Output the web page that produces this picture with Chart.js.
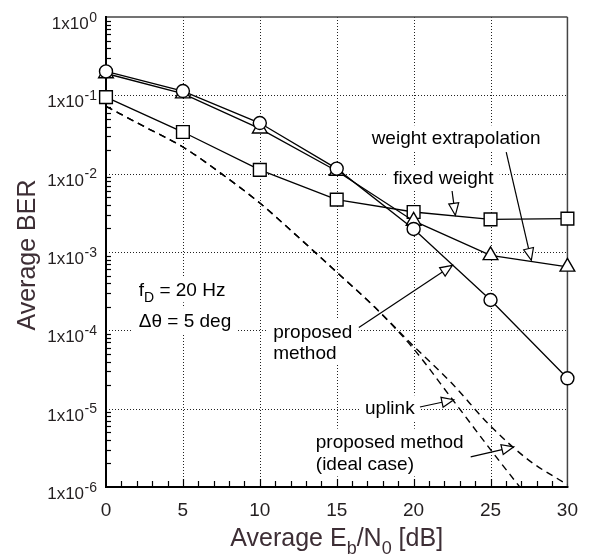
<!DOCTYPE html>
<html>
<head>
<meta charset="utf-8">
<script src="https://cdn.jsdelivr.net/npm/chart.js@4.4.1/dist/chart.umd.min.js"></script>
<style>
  html, body { margin: 0; padding: 0; background: #fff; }
  #wrap { width: 590px; height: 559px; position: relative; }
</style>
</head>
<body>
<div id="wrap"><canvas id="ber"></canvas></div>
<script>
// measured points (Eb/N0 in dB, BER)
const ebn0 = [0, 5, 10, 15, 20, 25, 30]
const berProposed = [0.202, 0.1135, 0.0443, 0.0116, 0.00197, 0.000244, 0.0000244]
const berExtrapolation = [0.19, 0.105, 0.0375, 0.0108, 0.00249, 0.000906, 0.000645]
const berFixed = [0.095, 0.034, 0.0112, 0.00466, 0.00324, 0.00261, 0.00267]

// theoretical curves (dashed)
const snrUplink = [0, 2.5, 5, 7.5, 10, 12.5, 15, 17.5, 20, 22.5, 25, 26.9]
const berUplink = [0.0724, 0.0398, 0.0219, 0.01, 0.00422, 0.00155, 0.000553, 0.000195, 0.000058, 0.0000133, 0.000003, 0.000001]
const snrIdeal = [0, 2.5, 5, 7.5, 10, 12.5, 15, 17.5, 20, 22.5, 25, 27.5, 30]
const berIdeal = [0.0724, 0.0398, 0.0219, 0.01, 0.00422, 0.00155, 0.000553, 0.000195, 0.000063, 0.0000209, 0.000006, 0.00000219, 0.00000107]

// axis ticks
const xTickValues = [0, 5, 10, 15, 20, 25, 30]
const yExponents = [0, -1, -2, -3, -4, -5, -6]

const FONT = '"Liberation Sans", Arial, Helvetica, sans-serif'
const INK = '#231f20'
const TITLE = '#3d2e35'

// text notes inside the plot, anchored in data coords (left, baseline)
const notes = [
  { parts: [{ t: 'weight extrapolation' }], x: 17.27, y: 2.37e-2 },
  { parts: [{ t: 'fixed weight' }], x: 18.68, y: 7.3e-3 },
  { parts: [{ t: 'proposed' }], x: 10.87, y: 8.0e-5 },
  { parts: [{ t: 'method' }], x: 10.87, y: 4.33e-5 },
  { parts: [{ t: 'f' }, { t: 'D', s: 'sub' }, { t: ' = 20 Hz' }], x: 2.13, y: 2.72e-4 },
  { parts: [{ t: '\u0394\u03b8 = 5 deg' }], x: 2.13, y: 1.10e-4 },
  { parts: [{ t: 'uplink' }], x: 16.84, y: 8.47e-6 },
  { parts: [{ t: 'proposed method' }], x: 13.64, y: 3.18e-6 },
  { parts: [{ t: '(ideal case)' }], x: 13.64, y: 1.63e-6 }
]

const arrows = [
  { from: [22.5, 6.0e-3], to: [22.71, 2.94e-3] },
  { from: [26.02, 1.89e-2], to: [27.65, 7.83e-4] },
  { from: [16.44, 1.09e-4], to: [22.52, 6.76e-4] },
  { from: [20.41, 1.05e-5], to: [22.61, 1.30e-5] },
  { from: [23.71, 2.42e-6], to: [26.51, 3.26e-6] }
]

function pts(xs, ys) {
  return xs.map((x, i) => ({ x: x, y: ys[i] }))
}

function marked(label, xs, ys, style, r) {
  return {
    label: label, data: pts(xs, ys), clip: false,
    borderColor: '#000', borderWidth: 1.3,
    pointStyle: style, pointRadius: r, pointHoverRadius: r,
    pointBackgroundColor: '#fff', pointBorderColor: '#000', pointBorderWidth: 1.4
  }
}

function dashed(label, xs, ys) {
  return {
    label: label, data: pts(xs, ys),
    borderColor: '#000', borderWidth: 1.4, borderDash: [7, 5],
    pointRadius: 0, cubicInterpolationMode: 'monotone'
  }
}

function richWidth(ctx, parts, size) {
  let w = 0
  parts.forEach(p => {
    ctx.font = (p.s ? Math.round(size * 0.72) : size) + 'px ' + FONT
    w += ctx.measureText(p.t).width
  })
  return w
}

function drawRich(ctx, parts, x, y, size) {
  parts.forEach(p => {
    let dy = 0
    if (p.s === 'sub') dy = size * 0.3
    if (p.s === 'sup') dy = -size * 0.4
    ctx.font = (p.s ? Math.round(size * 0.72) : size) + 'px ' + FONT
    ctx.fillText(p.t, x, y + dy)
    x += ctx.measureText(p.t).width
  })
}

function seg(ctx, x1, y1, x2, y2) {
  ctx.beginPath(); ctx.moveTo(x1, y1); ctx.lineTo(x2, y2); ctx.stroke()
}

const decor = {
  id: 'decor',
  beforeDatasetsDraw(chart) {
    const ctx = chart.ctx, a = chart.chartArea
    const xs = chart.scales.x, ys = chart.scales.y
    ctx.save()
    // dotted grid
    ctx.strokeStyle = '#222'
    ctx.lineWidth = 1
    ctx.setLineDash([1, 2])
    xTickValues.forEach(v => {
      if (v <= xs.min || v >= xs.max) return
      const x = Math.round(xs.getPixelForValue(v)) + 0.5
      seg(ctx, x, a.top, x, a.bottom)
    })
    yExponents.forEach(e => {
      const v = Math.pow(10, e)
      if (v >= ys.max || v <= ys.min) return
      const y = Math.round(ys.getPixelForValue(v)) + 0.5
      seg(ctx, a.left, y, a.right, y)
    })
    ctx.setLineDash([])

    // white boxes behind the notes
    ctx.fillStyle = '#fff'
    notes.forEach(n => {
      const x = xs.getPixelForValue(n.x), y = ys.getPixelForValue(n.y)
      const w = richWidth(ctx, n.parts, 19)
      ctx.fillRect(x - 6, y - 19, w + 12, 25)
    })

    // minor ticks
    ctx.strokeStyle = '#000'
    ctx.lineWidth = 1.2
    for (let v = 1; v < 30; v++) {
      const x = Math.round(xs.getPixelForValue(v)) + 0.5
      seg(ctx, x, a.bottom, x, a.bottom - (v % 5 ? 6 : 8))
    }
    yExponents.forEach(e => {
      if (e === 0) return
      for (let m = 2; m <= 9; m++) {
        const y = Math.round(ys.getPixelForValue(m * Math.pow(10, e))) + 0.5
        seg(ctx, a.left, y, a.left + 5, y)
      }
    })

    // frame
    ctx.strokeStyle = '#444'
    ctx.lineWidth = 1.5
    seg(ctx, a.left, a.top, a.right, a.top)
    seg(ctx, a.right, a.top, a.right, a.bottom)
    ctx.strokeStyle = '#000'
    ctx.lineWidth = 2
    seg(ctx, a.left, a.top - 1, a.left, a.bottom + 1)
    seg(ctx, a.left - 1, a.bottom, a.right + 1, a.bottom)

    // notes
    ctx.fillStyle = '#000'
    ctx.textAlign = 'left'
    ctx.textBaseline = 'alphabetic'
    notes.forEach(n => {
      drawRich(ctx, n.parts, xs.getPixelForValue(n.x), ys.getPixelForValue(n.y), 19)
    })
    ctx.restore()
  },
  afterDatasetsDraw(chart) {
    const ctx = chart.ctx, a = chart.chartArea
    const xs = chart.scales.x, ys = chart.scales.y
    ctx.save()
    // arrows with open heads
    ctx.strokeStyle = '#000'
    ctx.fillStyle = '#fff'
    ctx.lineWidth = 1.2
    arrows.forEach(ar => {
      const x1 = xs.getPixelForValue(ar.from[0]), y1 = ys.getPixelForValue(ar.from[1])
      const x2 = xs.getPixelForValue(ar.to[0]), y2 = ys.getPixelForValue(ar.to[1])
      const ang = Math.atan2(y2 - y1, x2 - x1)
      const len = 12, hw = 5
      const bx = x2 - Math.cos(ang) * len, by = y2 - Math.sin(ang) * len
      seg(ctx, x1, y1, bx, by)
      ctx.beginPath()
      ctx.moveTo(x2, y2)
      ctx.lineTo(bx + Math.sin(ang) * hw, by - Math.cos(ang) * hw)
      ctx.lineTo(bx - Math.sin(ang) * hw, by + Math.cos(ang) * hw)
      ctx.closePath()
      ctx.fill()
      ctx.stroke()
    })

    // y tick labels 1x10^n
    ctx.fillStyle = INK
    ctx.textAlign = 'right'
    ctx.textBaseline = 'alphabetic'
    yExponents.forEach(e => {
      const y = ys.getPixelForValue(Math.pow(10, e))
      ctx.font = '14px ' + FONT
      const sup = String(e)
      const w = ctx.measureText(sup).width
      ctx.fillText(sup, 97, y + 4.5)
      ctx.font = '17px ' + FONT
      ctx.fillText('1x10', 97 - w - 0.5, y + 12)
    })

    // axis titles
    ctx.fillStyle = TITLE
    ctx.textAlign = 'left'
    const xt = [{ t: 'Average E' }, { t: 'b', s: 'sub' }, { t: '/N' }, { t: '0', s: 'sub' }, { t: ' [dB]' }]
    const tw = richWidth(ctx, xt, 25)
    drawRich(ctx, xt, (a.left + a.right) / 2 - tw / 2, 546, 25)

    ctx.translate(35, (a.top + a.bottom) / 2 + 3)
    ctx.rotate(-Math.PI / 2)
    ctx.textAlign = 'center'
    ctx.font = '25px ' + FONT
    ctx.fillText('Average BER', 0, 0)
    ctx.restore()
  }
}

new Chart(document.getElementById('ber'), {
  type: 'line',
  data: {
    datasets: [
      marked('proposed method', ebn0, berProposed, 'circle', 6.5),
      marked('weight extrapolation', ebn0, berExtrapolation, 'triangle', 8.5),
      marked('fixed weight', ebn0, berFixed, 'rect', 9),
      dashed('uplink', snrUplink, berUplink),
      dashed('proposed method (ideal case)', snrIdeal, berIdeal)
    ]
  },
  options: {
    responsive: true,
    maintainAspectRatio: false,
    animation: false,
    layout: { padding: { top: 17, right: 15, left: 0, bottom: 0 } },
    plugins: { legend: { display: false }, tooltip: { enabled: false } },
    scales: {
      x: {
        type: 'linear', min: 0, max: 30,
        grid: { display: false, drawTicks: false },
        border: { display: false },
        ticks: {
          stepSize: 5, autoSkip: false, maxRotation: 0, padding: 12,
          color: INK, font: { family: FONT, size: 19 }
        },
        afterFit: s => { s.height = 72 }
      },
      y: {
        type: 'logarithmic', min: 1e-6, max: 1,
        grid: { display: false, drawTicks: false },
        border: { display: false },
        ticks: { display: false },
        afterFit: s => { s.width = 106 }
      }
    }
  },
  plugins: [decor]
})
</script>
</body>
</html>
